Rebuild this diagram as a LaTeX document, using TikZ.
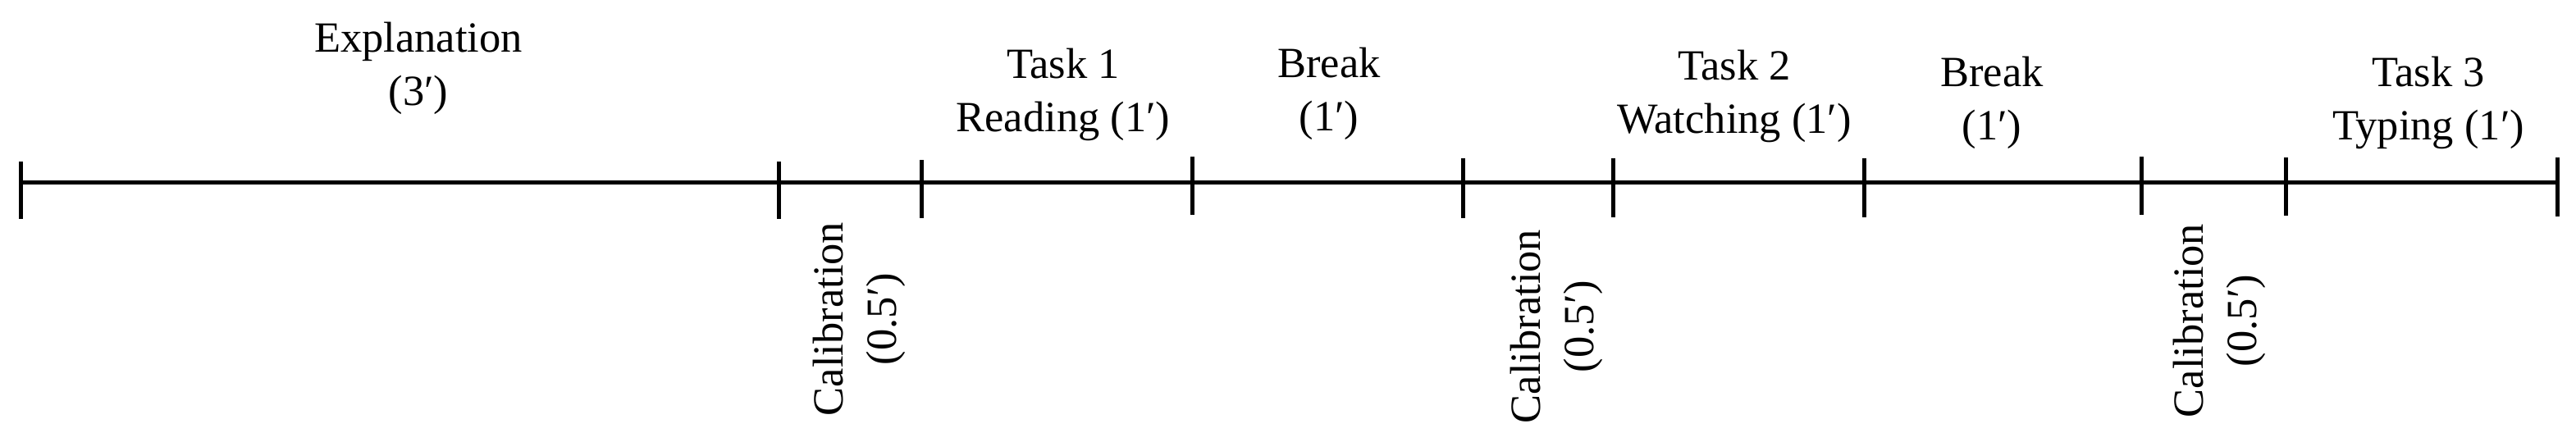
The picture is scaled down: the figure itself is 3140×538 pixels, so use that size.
\documentclass[tikz,border=0pt]{standalone}
\usepackage{fontspec}
\setmainfont{Liberation Serif}
\begin{document}
\begin{tikzpicture}[x=0.2pt,y=-0.2pt,
  axisline/.style={line width=1pt,draw=black},
  tickmark/.style={line width=1pt,draw=black},
  toplabel/.style={align=center,inner sep=0pt,font=\fontsize{10.5}{13}\selectfont},
  sidelabel/.style={toplabel,rotate=90}]
\useasboundingbox (0,0) rectangle (3140,538);
% tick positions on the time axis
\coordinate (t0) at (25,222);
\coordinate (t1) at (949,222);
\coordinate (t2) at (1123,222);
\coordinate (t3) at (1453,222);
\coordinate (t4) at (1783,222);
\coordinate (t5) at (1966,222);
\coordinate (t6) at (2272,222);
\coordinate (t7) at (2610,222);
\coordinate (t8) at (2786,222);
\coordinate (t9) at (3117,222);
% axis
\draw[axisline] (t0) -- (t9);
% ticks
\foreach \t/\a/\b in {t0/-25/45,t1/-25/45,t2/-27/44,t3/-31/40,t4/-29/44,t5/-29/43,t6/-29/43,t7/-31/40,t8/-30/41,t9/-30/42}
  \draw[tickmark] (\t) ++(0,\a) -- ([yshift=-\b*0.2pt]\t);
% labels above
\node[toplabel] (expl)   at (510,83)   {Explanation\\(3′)};
\node[toplabel] (task1)  at (1296,115) {Task 1\\Reading (1′)};
\node[toplabel] (break1) at (1620,114) {Break\\(1′)};
\node[toplabel] (task2)  at (2114,117) {Task 2\\Watching (1′)};
\node[toplabel] (break2) at (2428,125) {Break\\(1′)};
\node[toplabel] (task3)  at (2960,125) {Task 3\\Typing (1′)};
% labels below (rotated)
\node[sidelabel] (cal1) at (1047,389) {Calibration\\(0.5′)};
\node[sidelabel] (cal2) at (1897,398) {Calibration\\(0.5′)};
\node[sidelabel] (cal3) at (2705,391) {Calibration\\(0.5′)};
\end{tikzpicture}
\end{document}
